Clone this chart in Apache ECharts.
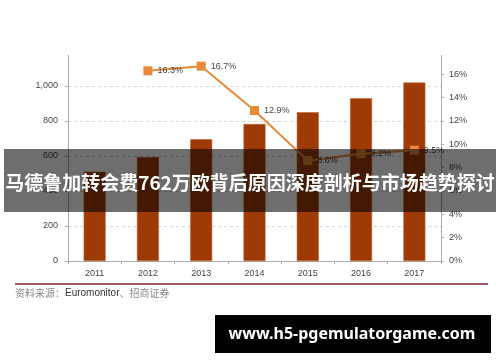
<!DOCTYPE html>
<html>
<head>
<meta charset="utf-8">
<script src="https://cdn.jsdelivr.net/npm/echarts@6/dist/echarts.min.js"></script>
<style>html,body{margin:0;padding:0;background:#fff;}#c{width:500px;height:362px;}</style>
</head>
<body>
<div id="c"></div>
<script>
var categories = ['2011','2012','2013','2014','2015','2016','2017'];
var salesValues = [510, 594, 696, 783, 850, 930, 1020];
var growthValues = [null, 16.3, 16.7, 12.9, 8.6, 9.2, 9.5];
var bannerTitle = '马德鲁加转会费762万欧背后原因深度剖析与市场趋势探讨';
var sourceLabel = '资料来源：';
var sourceText = 'Euromonitor、招商证券';
var watermark = 'www.h5-pgemulatorgame.com';

var chart = echarts.init(document.getElementById('c'));
chart.setOption({
  animation: false,
  grid: {left: 68, right: 59, top: 51, bottom: 101},
  xAxis: {
    type: 'category', data: categories,
    axisLine: {lineStyle: {color: '#aaa'}},
    axisTick: {show: true, alignWithLabel: false, length: 3, lineStyle: {color: '#aaa'}},
    axisLabel: {color: '#444', fontSize: 9, margin: 8, fontFamily: 'Liberation Sans'}
  },
  yAxis: [{
    type: 'value', min: 0, max: 1200, interval: 200,
    axisLine: {show: true, lineStyle: {color: '#aaa'}},
    axisTick: {show: true, length: 3, lineStyle: {color: '#aaa'}},
    axisLabel: {color: '#444', fontSize: 9, margin: 10, fontFamily: 'Liberation Sans',
      formatter: function (v) { return v.toLocaleString('en-US'); }},
    splitLine: {show: true, lineStyle: {color: '#d4d4d4', type: [3, 3]}}
  }, {
    type: 'value', min: 0, max: 18, interval: 2,
    axisLine: {show: true, lineStyle: {color: '#aaa'}},
    axisTick: {show: true, length: 3, lineStyle: {color: '#aaa'}},
    axisLabel: {color: '#444', fontSize: 9, margin: 8, fontFamily: 'Liberation Sans', formatter: '{value}%'},
    splitLine: {show: false}
  }],
  series: [{
    type: 'bar', data: salesValues, barWidth: 22,
    itemStyle: {color: '#9e3a06', borderColor: '#c0642e', borderWidth: 0.6}
  }, {
    type: 'line', yAxisIndex: 1, data: growthValues,
    symbol: 'rect', symbolSize: 9,
    lineStyle: {color: '#e8893a', width: 2},
    itemStyle: {color: '#e8893a'},
    label: {show: true, position: 'right', distance: 5, color: '#444', fontSize: 9,
      fontFamily: 'Liberation Sans', formatter: '{c}%'}
  }],
  graphic: [
    {type: 'rect', z: 100, shape: {x: 0, y: 0, width: 500, height: 55}, style: {fill: '#fff'}},
    {type: 'rect', z: 100, shape: {x: 4, y: 149, width: 492, height: 63}, style: {fill: 'rgba(0,0,0,0.57)'}},
    {type: 'text', z: 101, x: 250, y: 183, style: {text: bannerTitle, fill: '#fff',
      font: 'bold 19px "Noto Sans CJK SC"', align: 'center', verticalAlign: 'middle'}},
    {type: 'line', z: 100, shape: {x1: 15, y1: 284, x2: 488, y2: 284}, style: {stroke: '#8b2232', lineWidth: 1.5}},
    {type: 'text', z: 100, x: 15, y: 293, style: {
      text: '{a|' + sourceLabel + '}{b|' + sourceText.split('、')[0] + '}{a|、' + sourceText.split('、')[1] + '}',
      verticalAlign: 'middle',
      rich: {a: {fill: '#888', fontSize: 10, fontFamily: 'Noto Sans CJK SC'},
             b: {fill: '#333', fontSize: 10, fontFamily: 'Liberation Sans'}}}},
    {type: 'rect', z: 100, shape: {x: 215, y: 315, width: 276, height: 38}, style: {fill: '#000'}},
    {type: 'text', z: 101, x: 352, y: 334, style: {text: watermark, fill: '#fff',
      font: 'bold 16px "Noto Sans"', align: 'center', verticalAlign: 'middle'}}
  ]
});
</script>
</body>
</html>
